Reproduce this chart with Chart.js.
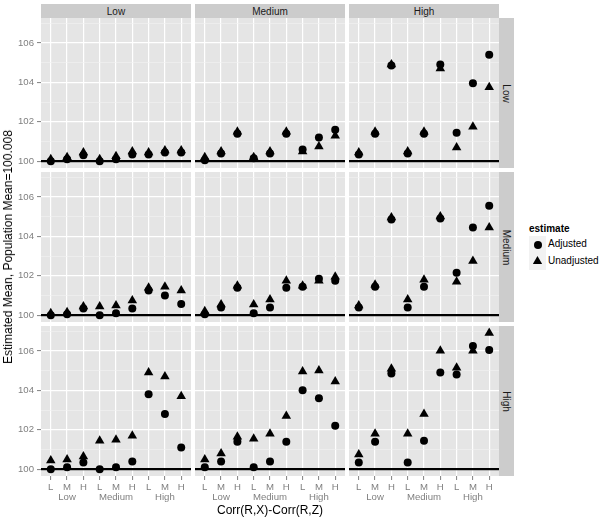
<!DOCTYPE html>
<html>
<head>
<meta charset="utf-8">
<script src="https://cdn.jsdelivr.net/npm/chart.js@4/dist/chart.umd.min.js"></script>
<style>
  body { margin: 0; background: #fff; width: 600px; height: 519px; position: relative; overflow: hidden;
         font-family: "Liberation Sans", Arial, sans-serif; }
  canvas { position: absolute; }
  .strip { position: absolute; background: #cccccc; color: #1a1a1a; font-size: 10px;
           display: flex; align-items: center; justify-content: center; white-space: nowrap; }
  .strip.right span { display: inline-block; transform: rotate(90deg); }
  .title { position: absolute; font-size: 12px; color: #000; white-space: nowrap; }
  .legend-title { position: absolute; left: 529px; top: 223px; font-size: 10px; font-weight: bold; }
  .key { position: absolute; left: 529px; width: 17px; height: 17px; background: #f2f2f2; }
  .key .dot { position: absolute; left: 4.5px; top: 4.5px; width: 8px; height: 8px; border-radius: 50%; background: #000; }
  .key .tri { position: absolute; left: 3.7px; top: 3px; width: 9.6px; height: 8.3px; background: #000;
              clip-path: polygon(50% 0, 100% 100%, 0 100%); }
  .key-label { position: absolute; left: 548px; font-size: 10px; }
</style>
</head>
<body>
<script>
// facet levels
const rowLevels = ['Low', 'Medium', 'High'];   // right strips
const colLevels = ['Low', 'Medium', 'High'];   // top strips
// x axis: Corr(R,X) group, then Corr(R,Z) letter
const groupLabels = ['Low', 'Medium', 'High'];
const letterLabels = ['L', 'M', 'H'];
const yTickValues = [100, 101, 102, 103, 104, 105, 106, 107];
const popMean = 100.008;

// estimates, one array of 9 per column facet (Low, Medium, High)
const adjustedRowLow = [
  [100.0, 100.1, 100.3, 100.0, 100.1, 100.35, 100.35, 100.45, 100.45],
  [100.05, 100.4, 101.4, 100.15, 100.4, 101.4, 100.6, 101.2, 101.6],
  [100.35, 101.4, 104.85, 100.4, 101.4, 104.9, 101.45, 103.95, 105.4]
];
const unadjustedRowLow = [
  [100.1, 100.2, 100.45, 100.1, 100.25, 100.5, 100.45, 100.55, 100.55],
  [100.2, 100.5, 101.5, 100.2, 100.5, 101.5, 100.5, 100.75, 101.3],
  [100.45, 101.5, 104.9, 100.5, 101.5, 104.7, 100.7, 101.75, 103.75]
];
const adjustedRowMedium = [
  [100.0, 100.05, 100.35, 100.0, 100.1, 100.35, 101.25, 101.0, 100.57],
  [100.05, 100.4, 101.4, 100.1, 100.4, 101.4, 101.45, 101.85, 101.75],
  [100.4, 101.45, 104.85, 100.4, 101.45, 104.9, 102.15, 104.45, 105.55]
];
const unadjustedRowMedium = [
  [100.1, 100.15, 100.45, 100.45, 100.5, 100.75, 101.4, 101.45, 101.25],
  [100.2, 100.55, 101.5, 100.55, 100.8, 101.75, 101.5, 101.75, 101.95],
  [100.5, 101.55, 104.95, 100.8, 101.8, 105.0, 101.7, 102.75, 104.45]
];
const adjustedRowHigh = [
  [100.0, 100.1, 100.35, 100.0, 100.1, 100.4, 103.8, 102.8, 101.1],
  [100.1, 100.4, 101.4, 100.1, 100.4, 101.4, 104.0, 103.6, 102.2],
  [100.35, 101.4, 104.85, 100.35, 101.45, 104.9, 104.8, 106.25, 106.05]
];
const unadjustedRowHigh = [
  [100.45, 100.5, 100.65, 101.45, 101.5, 101.7, 104.9, 104.7, 103.7],
  [100.5, 100.8, 101.65, 101.55, 101.8, 102.7, 104.95, 105.0, 104.45],
  [100.75, 101.8, 105.1, 101.8, 102.8, 106.0, 105.15, 106.0, 106.9]
];

const adjusted = [adjustedRowLow, adjustedRowMedium, adjustedRowHigh];
const unadjusted = [unadjustedRowLow, unadjustedRowMedium, unadjustedRowHigh];

// layout
const LEFT = 41, TOP = 18, PW = 150, PH = 150, GAP = 4, YAXIS_W = 41, XAXIS_H = 29;
const Y_MIN = 99.66, Y_MAX = 107.26;
const tickFont = { family: '"Liberation Sans", Arial, sans-serif', size: 9.6, lineHeight: 1.1 };

const panelPlugin = {
  id: 'panel',
  beforeDraw(chart) {
    const { ctx, chartArea: a } = chart;
    ctx.save();
    ctx.fillStyle = '#e5e5e5';
    ctx.fillRect(a.left, a.top, a.right - a.left, a.bottom - a.top);
    ctx.restore();
  },
  beforeDatasetsDraw(chart) {
    const { ctx, chartArea: a } = chart;
    const y = chart.scales.y.getPixelForValue(popMean);
    ctx.save();
    ctx.strokeStyle = '#000';
    ctx.lineWidth = 2.3;
    ctx.beginPath();
    ctx.moveTo(a.left, y);
    ctx.lineTo(a.right, y);
    ctx.stroke();
    ctx.restore();
  }
};

function toPoints(arr) {
  return arr.map((v, i) => ({ x: i + 1, y: v }));
}

// keep the axes from pushing the panel in (label overflow padding)
function noPad(s) {
  s.paddingTop = 0; s.paddingBottom = 0; s.paddingLeft = 0; s.paddingRight = 0;
}

function makePanel(r, c) {
  const isLeft = c === 0, isBottom = r === 2;
  const x0 = LEFT + c * (PW + GAP), y0 = TOP + r * (PH + GAP);
  const canvas = document.createElement('canvas');
  const w = isLeft ? PW + YAXIS_W : PW;
  const h = isBottom ? PH + XAXIS_H : PH;
  canvas.width = w; canvas.height = h;
  canvas.style.left = (isLeft ? x0 - YAXIS_W : x0) + 'px';
  canvas.style.top = y0 + 'px';
  canvas.style.width = w + 'px'; canvas.style.height = h + 'px';
  document.body.appendChild(canvas);

  new Chart(canvas, {
    type: 'scatter',
    data: {
      datasets: [
        { label: 'Adjusted', data: toPoints(adjusted[r][c]), pointStyle: 'circle', pointRadius: 4,
          backgroundColor: '#000', borderWidth: 0, order: 2 },
        { label: 'Unadjusted', data: toPoints(unadjusted[r][c]), pointStyle: 'triangle', pointRadius: 5.5,
          backgroundColor: '#000', borderWidth: 0, order: 1 }
      ]
    },
    options: {
      responsive: false,
      animation: false,
      events: [],
      layout: { padding: 0, autoPadding: false },
      plugins: { legend: { display: false }, tooltip: { enabled: false } },
      scales: {
        x: {
          type: 'linear', min: 0.4, max: 9.6,
          afterBuildTicks: s => { s.ticks = [1, 2, 3, 4, 5, 6, 7, 8, 9].map(v => ({ value: v })); },
          afterFit: s => { s.height = isBottom ? XAXIS_H : 0; noPad(s); },
          border: { display: false },
          grid: { color: '#ffffff', lineWidth: 1.2, drawTicks: isBottom, tickLength: 4, tickColor: '#7f7f7f', tickWidth: 1 },
          ticks: {
            display: isBottom, autoSkip: false, maxRotation: 0, padding: 2, color: '#7f7f7f', font: tickFont,
            callback: v => {
              const i = Math.round(v) - 1;
              return [letterLabels[i % 3], i % 3 === 1 ? groupLabels[Math.floor(i / 3)] : ''];
            }
          }
        },
        y: {
          type: 'linear', min: Y_MIN, max: Y_MAX,
          afterBuildTicks: s => { s.ticks = yTickValues.map(v => ({ value: v })); },
          afterFit: s => { s.width = isLeft ? YAXIS_W : 0; noPad(s); },
          border: { display: false },
          grid: {
            color: ctx => ctx.tick && ctx.tick.value % 2 === 0 ? '#ffffff' : '#f2f2f2',
            lineWidth: ctx => ctx.tick && ctx.tick.value % 2 === 0 ? 1.2 : 0.6,
            drawTicks: isLeft, tickLength: 4, tickWidth: 1,
            tickColor: ctx => ctx.tick && ctx.tick.value % 2 === 0 ? '#7f7f7f' : 'rgba(0,0,0,0)'
          },
          ticks: {
            display: isLeft, autoSkip: false, padding: 3, color: '#7f7f7f', font: tickFont,
            callback: v => (v % 2 === 0 ? String(v) : '')
          }
        }
      }
    },
    plugins: [panelPlugin]
  });
}

function addDiv(cls, html, style) {
  const d = document.createElement('div');
  d.className = cls;
  d.innerHTML = html;
  Object.assign(d.style, style);
  document.body.appendChild(d);
  return d;
}

for (let r = 0; r < 3; r++) {
  for (let c = 0; c < 3; c++) makePanel(r, c);
}

// strips
colLevels.forEach((lab, c) => {
  addDiv('strip', lab, { left: (LEFT + c * (PW + GAP)) + 'px', top: '4px', width: PW + 'px', height: '14px' });
});
rowLevels.forEach((lab, r) => {
  addDiv('strip right', '<span>' + lab + '</span>', {
    left: (LEFT + 3 * PW + 2 * GAP) + 'px', top: (TOP + r * (PH + GAP)) + 'px', width: '15px', height: PH + 'px'
  });
});

// axis titles
addDiv('title', 'Corr(R,X)-Corr(R,Z)', { left: '0px', width: '540px', textAlign: 'center', top: '503px' });
addDiv('title', 'Estimated Mean, Population Mean=100.008', {
  left: '8px', top: '247px', transform: 'translate(-50%,-50%) rotate(-90deg)', lineHeight: '14px'
});

// legend
addDiv('legend-title', 'estimate', {});
addDiv('key', '<div class="dot"></div>', { top: '236px' });
addDiv('key', '<div class="tri"></div>', { top: '253px' });
addDiv('key-label', 'Adjusted', { top: '238px' });
addDiv('key-label', 'Unadjusted', { top: '255px' });
</script>
</body>
</html>
